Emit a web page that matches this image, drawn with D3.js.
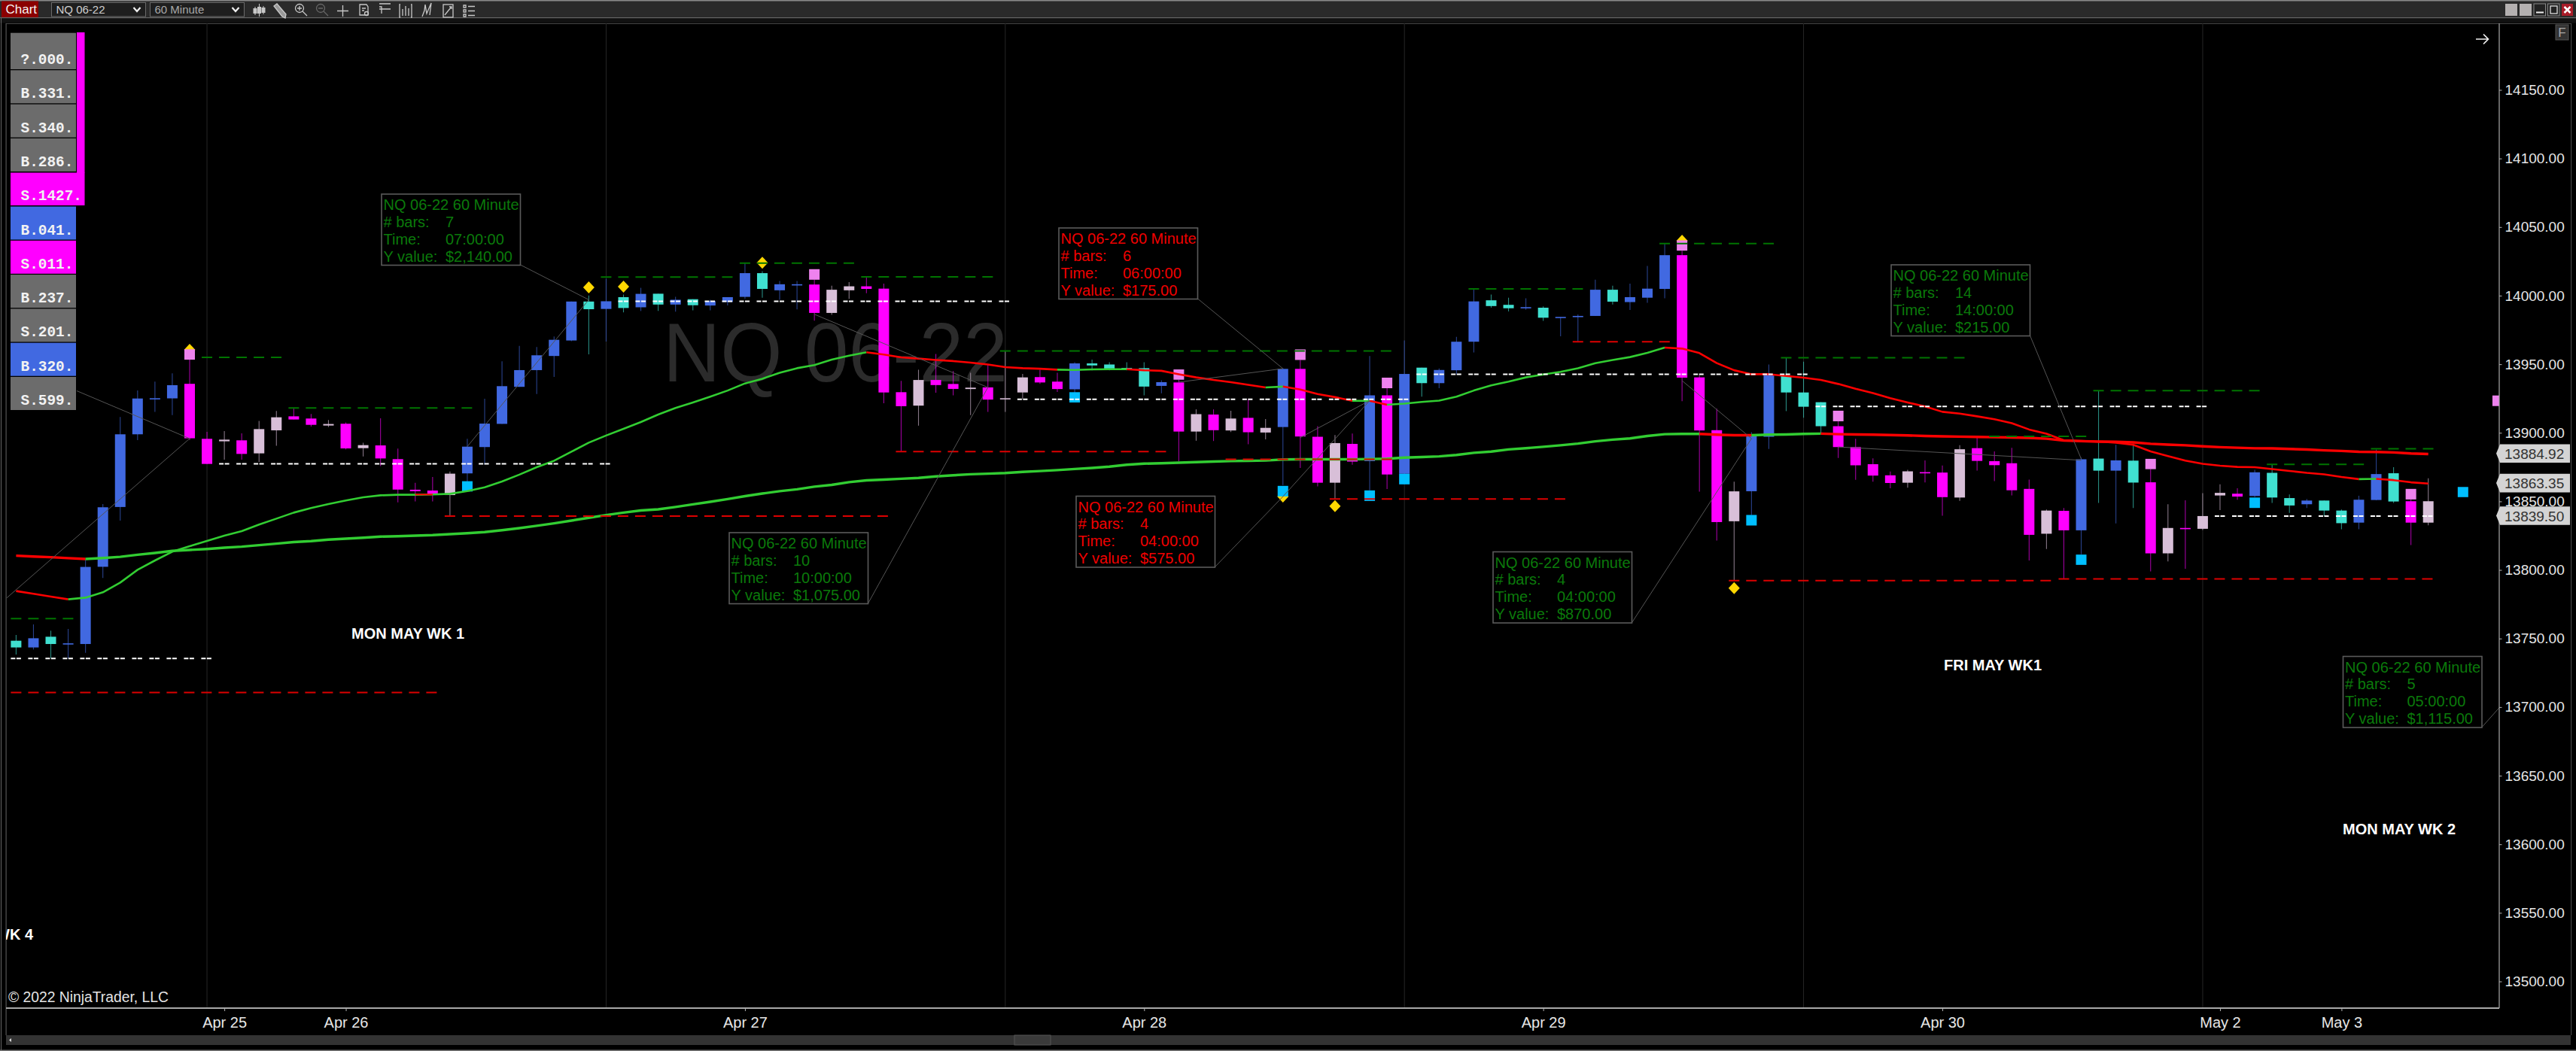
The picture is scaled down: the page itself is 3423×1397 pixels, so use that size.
<!DOCTYPE html>
<html><head><meta charset="utf-8">
<style>html,body{margin:0;padding:0;background:#000;overflow:hidden}svg{display:block;font-family:"Liberation Sans",Arial,sans-serif}</style>
<script src="https://cdn.jsdelivr.net/npm/d3@7/dist/d3.min.js"></script></head><body>
<script>
// ---------- DATA ----------
const barKinds=("tbtbbbbbbb"+"mmhmhhmmhm"+"hmmmmhbbbb"+"bbbtbtbtbt"+"bbbtbbmhhm"+"mmhmmhmhhm"+"mbttttbmhm"+"hmhbmmhmbm"+"btbbbttbtb"+"bbtbbbmmmh"+"bbtttmmmmh"+"mmhmmmmhmb"+"tbtmhmhhmb"+"ttbttbbtmh").split("");
const bodyTop=[13748.4,13750.2,13751.3,13746.5,13802.2,13845.7,13898.9,13925,13925.2,13934.7,
13935.7,13895.6,13895,13894.5,13902.7,13911.3,13912,13910.4,13906.4,13906.6,
13891,13890.8,13880.8,13858.5,13857.9,13870.2,13889.9,13906.7,13934,13945.7,
13956.5,13967.8,13995.7,13995.7,13995.9,13998.9,14001.3,14001.4,13997,13997.4,
13996,13998.9,14016.4,14016.4,14008.3,14008.3,14008.1,14004.3,14006.8,14006.8,
14005.1,13929.6,13938.5,13938.5,13935.6,13932.9,13933.1,13925.2,13940.4,13940.6,
13937.3,13950.6,13950.6,13949.8,13947.3,13947.1,13936.9,13936.7,13913.6,13913.3,
13910.4,13910.9,13903.6,13946.6,13946.6,13897.1,13892.5,13891.9,13927.3,13927.3,
13942.9,13947.5,13945.8,13966.4,13995.8,13996.6,13993.3,13991.6,13991.2,13984.5,
13985.2,14004.3,14004.3,13998.9,14005.1,14029.5,14029.5,13940.4,13901.9,13857.3,
13897.5,13942.5,13941.7,13929.4,13922.3,13904.8,13889.6,13877.1,13869,13871.9,
13871.3,13871,13888,13888.8,13879.3,13877.8,13859.1,13843.3,13843.1,13880.7,
13881.2,13879.9,13879.7,13863.9,13830.6,13830.6,13839.3,13856.2,13855.6,13871.2,
13870.8,13852.4,13850.6,13850.6,13843.3,13851.2,13869.9,13870.5,13850.1,13850.1];
const bodyBottom=[13743.5,13743.5,13746,13745.7,13746,13802.3,13845.9,13898.9,13924.4,13925.1,
13896,13877.3,13893.8,13884.6,13885,13901.8,13909.7,13905.8,13905.3,13888.6,
13888.8,13881.3,13858.6,13857.4,13855.4,13854.6,13870.4,13889.6,13906.5,13933.5,
13945.7,13956,13967.3,13990.1,13990.3,13991,13991.5,13993.5,13993.5,13993,
13992.8,13995.4,13999.1,14004.9,14003.9,14007.6,13987.4,13987.4,14003.9,14004.9,
13929.4,13919.4,13919.8,13934.8,13932,13931.9,13924.2,13924.4,13929.4,13936.7,
13931.9,13931.7,13949.1,13946.8,13946.4,13933.7,13934.2,13900.9,13900.9,13901.9,
13901.7,13900.4,13900.2,13904.2,13897.3,13863.6,13863.6,13879,13879.4,13869.6,
13870.1,13936.2,13936.2,13945.6,13966.4,13992.4,13990.8,13991.2,13983.9,13984.1,
13984.7,13985.2,13995.6,13995.3,13998.5,14004.9,13940.2,13901.7,13834.9,13835.5,
13857.4,13897.1,13929.4,13919,13904.8,13889.6,13876.3,13868.8,13863.4,13863.6,
13870.9,13853.1,13852.8,13879.5,13876.4,13858.1,13825.6,13826.4,13828.9,13828.9,
13872.4,13872.4,13863.7,13812.1,13812.1,13830,13830,13854.3,13853.5,13853.9,
13852.8,13847,13847.9,13843.3,13834.1,13834.5,13851,13849.9,13834.5,13834.5];
const wickHigh=[13752.6,13760.3,13755.7,13757,13808.2,13848,13911.5,13930.9,13937.3,13943.3,
13953.3,13900.7,13901.3,13899.6,13908.6,13915.9,13917.9,13913.7,13909.3,13907.5,
13892.8,13910.6,13888.5,13863.6,13867.8,13871.8,13895.6,13924.8,13952.1,13963.4,
13962.6,13970.2,13995.7,14000.1,14012.3,14000.8,14005.7,14001.4,13999.1,13997.4,
13997,13998.9,14023.5,14017.8,14010.7,14010.7,14011.6,14007.2,14009.9,14013.7,
14008.7,13937.9,13946,13957.5,13945,13943.7,13949.8,13959.5,13942.9,13946,
13943.7,13951.4,13953.3,13951.4,13951.4,13951.4,13938.3,13938.7,13917.1,13917.1,
13916.1,13924.4,13910,13947.1,13953.1,13904.8,13898.4,13899.4,13956,13932.5,
13967.3,13947.5,13946.9,13970,14004.7,14000.8,13998.5,13998.1,13992.2,13984.5,
13986.2,14011.6,14007.2,14008.7,14021.6,14037.8,14032.8,13942.1,13917.5,13864.4,
13900.4,13949.8,13954.6,13951.9,13922.3,13908.4,13895.6,13881.3,13871.7,13873,
13879.8,13876.2,13890.9,13897,13886.4,13889.1,13865.8,13844.1,13845.1,13882,
13930.7,13891.2,13892.2,13873.5,13847.9,13850.8,13856,13862.4,13859.5,13873,
13876.8,13855.1,13851.8,13850.6,13844.1,13854.1,13887.8,13874.9,13851.4,13866.8];
const wickLow=[13738.3,13742,13735.6,13735.6,13739.6,13794.1,13836,13894.7,13915.2,13912.9,
13894.8,13877.3,13880.4,13880.4,13878.8,13890.6,13909.7,13904.5,13904.2,13887.9,
13882.8,13875.8,13849.3,13849.9,13849.9,13839.3,13864.5,13876.9,13906.5,13933.5,
13928.3,13940.8,13966.8,13957.2,13966.5,13987.8,13988.8,13988.9,13988.3,13989.3,
13989.3,13992.8,13997.6,13998.5,13997,13989.9,13981.8,13986,13997.6,14001.8,
13921.5,13886.3,13905.2,13929.2,13927.3,13912.9,13915.2,13915.2,13924.4,13935.6,
13929.8,13924.4,13945.6,13945.6,13945.6,13927.3,13928.8,13879.2,13894.2,13894,
13900.6,13891.7,13895.2,13861.9,13874.4,13860.9,13851.7,13876.7,13858,13859,
13862.8,13926.3,13932.5,13942.7,13958.5,13991.2,13988.5,13989.7,13981.6,13970.4,
13966.4,13985.2,13993.5,13989.5,13994.7,13998.1,13923.1,13857.1,13821.4,13792.2,
13840.1,13888.2,13915.8,13911,13899.4,13881.7,13865.7,13864.4,13859.6,13860,
13863.8,13839.5,13850.4,13872.4,13864.7,13854.3,13806.9,13815.2,13793.5,13811.4,
13848.9,13833.9,13845.1,13798.9,13806.2,13800.8,13829.1,13843.7,13851.2,13853.1,
13848.9,13841.6,13845.1,13839.3,13829.7,13829.7,13850.8,13848.9,13818.1,13832.5];
const cyanBlocks=[[26,13864.7,13857.2],[61,13929.6,13922.1],[73,13861.3,13853.6],[78,13858,13850.3],[80,13870.1,13862.4],[100,13840.1,13832.4],[119,13811.2,13803.7],[129,13852.8,13845.2],[141,13860.5,13853.1]];
const violetBlocks=[[10,13960.9,13953.3],[46,14019.3,14011.6],[67,13946.2,13938.7],[74,13960.8,13953.1],[79,13940.2,13932.5],[96,14040.3,14032.8],[105,13916.1,13908.4],[123,13881,13873.5],[138,13859.1,13851.4],[143,13927.2,13919.5]];
const goldMarks=[[10,13960.5],[33,14006],[35,14006.5],[43,14024],[73,13853.5],[76,13846.5],[96,14040],[99,13786.8]];
const fastLine=[13784.6,13782.6,13780.6,13778.6,13779.8,13783.7,13790.8,13800.1,13806.9,13813.3,
13817.3,13821.2,13825,13828.3,13833.1,13837.4,13841.8,13845.1,13848,13850.6,
13853,13854.4,13854.8,13854.8,13855,13855.5,13857.5,13860.3,13864.5,13869.5,
13874.9,13879.6,13886.2,13892.8,13898,13902.9,13907.8,13913.3,13918.1,13922.1,
13926.3,13930.8,13936,13939.4,13943.7,13947.1,13949.4,13953.3,13956.2,13958.7,
13957.1,13955,13954.1,13953.1,13952.3,13951.2,13949.8,13947.9,13947.1,13946.7,
13946,13945.8,13946.2,13946.4,13946.4,13945.6,13945.2,13942.7,13940.4,13938.5,
13936.9,13935,13933.1,13933.7,13931.5,13928.3,13926,13923.3,13923.3,13920.4,
13921.3,13922.5,13923.5,13926.3,13930.8,13934.6,13937.3,13940.4,13942.5,13944.4,
13947.1,13950.8,13953.1,13955.2,13958.3,13962.1,13961.4,13958.1,13950.8,13945.6,
13942.7,13942.7,13941.4,13940.2,13938.5,13935.6,13932.1,13929,13925.2,13922.1,
13919.2,13915.3,13914,13912,13909.9,13907,13902.4,13899.3,13894.5,13894.1,
13893.6,13892.8,13891.2,13886.4,13883,13879.7,13877.4,13876,13875.1,13874.9,
13873.5,13872.2,13870.8,13869.7,13867.8,13866.2,13866.4,13865.5,13863.9,13863];
const slowLine=[13810.4,13809.8,13809.3,13808.6,13808,13808.7,13809.6,13811.1,13812.4,13813.9,
13814.6,13815.3,13816.2,13817,13818.1,13819.2,13820.3,13821,13822.1,13822.8,
13823.5,13824.3,13824.6,13825,13825.4,13826.1,13826.8,13827.6,13829,13830.5,
13832.2,13834,13836,13838,13840,13841.8,13843.4,13844.2,13845.9,13847.8,
13849.7,13851.7,13853.8,13855.7,13857.4,13858.8,13860.7,13862,13864,13865.3,
13865.9,13866.5,13867.1,13868.2,13869,13869.8,13870.2,13870.7,13871.5,13872.1,
13872.8,13873.6,13874.4,13875.3,13876.7,13877.5,13877.8,13878.2,13878.6,13879,
13879.4,13879.6,13879.8,13880.5,13880.7,13880.7,13880.7,13880.7,13880.9,13881.1,
13881.9,13882.3,13882.8,13883.8,13885.4,13886.3,13887.9,13888.8,13889.8,13890.9,
13892.1,13893.8,13895,13895.9,13897.7,13899,13899.2,13899.2,13898.6,13898.2,
13898.2,13898.6,13898.8,13899.2,13899.4,13899,13898.8,13898.6,13898.4,13898.1,
13897.7,13897.4,13897.2,13897,13896.8,13896.6,13896.3,13895.7,13894.3,13893.9,
13893.6,13893.4,13893,13892,13891.4,13890.9,13890.1,13889.5,13889.1,13888.7,
13888.6,13888.2,13887.8,13887.2,13886.8,13886.2,13886,13885.7,13884.9,13884.5];
const fastRedRuns=[[0,3],[49,60],[64,72],[73,77],[78,79],[95,135],[136,139]];
const slowRedRuns=[[0,4],[97,100],[104,139]];
// level lines: [first bar, last bar, price]
const greenLevels=[[0,3,13764.5],[11,15,13955],[16,26,13918.1],[34,41,14013.5],[42,48,14023.7],[49,56,14013.7],[57,79,13959.6],[84,90,14004.9],[95,101,14038],[102,112,13954.7],[114,119,13897.4],[120,129,13930.7],[130,135,13877],[136,139,13888.4]];
const whiteLevels=[[0,11,13735.4],[12,34,13877.4],[35,57,13995.8],[58,80,13924.4],[81,103,13942.7],[104,126,13919.2],[127,139,13839.3]];
const redLevels=[[0,24,13710.7],[25,50,13839.3],[51,66,13886.3],[70,79,13880.7],[76,89,13851.7],[90,95,13966.4],[99,117,13792.2],[118,139,13793.5]];
const zigzags=[[-0.55,13779.5,10,13895.8],[26,13890,33,13997],[46,13986.4,56,13933.1],[67,13936.9,73,13946.8],[73,13853.5,78,13923.5],[74,13896.5,78,13923.5],[96,13938,100,13895.8],[105,13889.7,119,13880]];
const priceTicks=d3.range(14150,13450,-50);
const dateBars=[12,19,42,65,88,111,127,134];
const dateLabels=["Apr 25","Apr 26","Apr 27","Apr 28","Apr 29","Apr 30","May 2","May 3"];
const sessionBars=[11,34,57,80,103,126];
const priceFlags=[13884.92,13863.35,13839.50];
const pillLabels=["?.000.","B.331.","S.340.","B.286.","S.1427.","B.041.","S.011.","B.237.","S.201.","B.320.","S.599."];
const pillKinds=["g","g","g","g","m","b","m","g","g","b","g"];
const noteSymbol="NQ 06-22 60 Minute";
const noteBars=["7","6","10","4","4","14","5"];
const noteTimes=["07:00:00","06:00:00","10:00:00","04:00:00","04:00:00","14:00:00","05:00:00"];
const noteValues=["$2,140.00","$175.00","$1,075.00","$575.00","$870.00","$215.00","$1,115.00"];
const noteKinds=["g","r","g","r","g","g","g"];
const noteAnchors=[[33,13997],[73,13946.8],[56,13933.1],[73,13853.5],[100,13895.8],[119,13881],[143.1,13699.7]];

// ---------- LAYOUT ----------
const W=3423,H=1397,axisX=3321,plotTop=31,plotBottom=1340;
const noteBoxes=[[507,258],[1407,303],[969,708],[1430,659.5],[1984,733.5],[2513,352],[3113.5,872.5]];
const x=d3.scaleLinear().domain([0,139]).range([21.4,3226.7]);
const y=d3.scaleLinear().domain([14150,13500]).range([119.5,1304.5]);
const colors={b:"#4169E1",t:"#40E0D0",m:"#FF00FF",h:"#D8BFD8",v:"#EE82EE",c:"#00BFFF"};
const svg=d3.select("body").append("svg").attr("width",W).attr("height",H);
svg.append("rect").attr("width",W).attr("height",H).attr("fill","#000");
const defs=svg.append("defs");
defs.append("clipPath").attr("id","plot").append("rect").attr("x",8).attr("y",plotTop).attr("width",axisX-8).attr("height",plotBottom-plotTop);

// window chrome
const chrome=svg.append("g");
chrome.append("rect").attr("width",W).attr("height",24).attr("fill","#2a2a2a");
chrome.append("rect").attr("width",W).attr("height",1.5).attr("fill","#8a8a8a");
chrome.append("rect").attr("y",23).attr("width",W).attr("height",1.5).attr("fill","#666");
chrome.append("rect").attr("y",24.5).attr("width",W).attr("height",6).attr("fill","#111");
chrome.append("rect").attr("x",2).attr("y",1.5).attr("width",49).attr("height",21.5).attr("fill","#8b0000");
chrome.append("text").attr("x",7.5).attr("y",18).attr("fill","#f4f4f4").attr("font-size",17).text("Chart");
[[68.5,"NQ 06-22","#cfcfcf"],[199.5,"60 Minute","#a8a8a8"]].forEach(([bx,t,c])=>{
  chrome.append("rect").attr("x",bx).attr("y",3.5).attr("width",125).attr("height",18.5).attr("fill","#1e1e1e").attr("stroke","#6a6a6a");
  chrome.append("text").attr("x",bx+6).attr("y",18).attr("fill",c).attr("font-size",15).text(t);
  chrome.append("path").attr("d",`M${bx+109} 10l4.5 5 4.5-5`).attr("fill","none").attr("stroke","#f0f0f0").attr("stroke-width",2.2);
});
const ic=chrome.append("g").attr("stroke","#c8c8c8").attr("fill","none").attr("stroke-width",1.3);
ic.append("path").attr("d","M339 9v11M344.5 5v17M350 8v11").attr("stroke-width",1);
[[336.5,11,5,7],[342,9,5,9],[347.5,10,5,7]].forEach(r=>ic.append("rect").attr("x",r[0]).attr("y",r[1]).attr("width",r[2]).attr("height",r[3]).attr("fill","#c8c8c8").attr("stroke","none"));
ic.append("path").attr("d","M364 8l4-3 12 14 -1 5-4-2z").attr("fill","#999");
ic.append("circle").attr("cx",398).attr("cy",11).attr("r",5.5);ic.append("path").attr("d","M402 15l6 6M395 11h6M398 8v6");
ic.append("circle").attr("cx",426).attr("cy",11).attr("r",5.5).attr("stroke","#666");ic.append("path").attr("d","M430 15l6 6M423 11h6").attr("stroke","#666");
ic.append("path").attr("d","M448 14.5h15M455.5 7v15");
ic.append("path").attr("d","M478 6h9l2 3v11h-11zM481 11h5M481 14h3"); ic.append("circle").attr("cx",487).attr("cy",18).attr("r",2.5);
ic.append("path").attr("d","M504 5h15M504 12h15M504 9h3v9");
ic.append("path").attr("d","M532 6h-1v17h1M546 6h1v17h-1M535 12v9M539 8v13M543 11v10");
ic.append("path").attr("d","M561 22l3-8 1-8 2 12 6-14-2 16");
ic.append("rect").attr("x",589).attr("y",6).attr("width",13).attr("height",17);ic.append("path").attr("d","M591 20l4-5 5-6M597 9h3v3");
ic.append("path").attr("d","M616 7h3v3h-3zM616 13h3v3h-3zM616 19h3v3h-3zM622 8.5h9M622 14.5h9M622 20.5h9");
[[3329,"#b4b0b0"],[3348,"#b4b0b0"]].forEach(([bx,c])=>chrome.append("rect").attr("x",bx).attr("y",5).attr("width",16).attr("height",16).attr("fill",c));
chrome.append("rect").attr("x",3367).attr("y",5).attr("width",15.5).attr("height",16).attr("fill","#222").attr("stroke","#888");
chrome.append("rect").attr("x",3370).attr("y",15.5).attr("width",10).attr("height",2).attr("fill","#eee");
chrome.append("rect").attr("x",3385.5).attr("y",5).attr("width",15.5).attr("height",16).attr("fill","#222").attr("stroke","#888");
chrome.append("rect").attr("x",3389).attr("y",8).attr("width",9).attr("height",10).attr("fill","none").attr("stroke","#eee").attr("stroke-width",1.2);
chrome.append("rect").attr("x",3404).attr("y",5).attr("width",15).attr("height",16).attr("fill","#a81c28");
chrome.append("path").attr("d","M3407.5 9l8 8M3415.5 9l-8 8").attr("stroke","#fff").attr("stroke-width",2.6);
chrome.append("rect").attr("x",8).attr("y",31).attr("width",3408).attr("height",1).attr("fill","#444");
chrome.append("rect").attr("x",1).attr("y",24).attr("width",1).attr("height",H-24).attr("fill","#666");
chrome.append("rect").attr("x",7.5).attr("y",31).attr("width",1.2).attr("height",1345).attr("fill","#555");
chrome.append("rect").attr("x",3416).attr("y",31).attr("width",1.2).attr("height",1345).attr("fill","#444");
chrome.append("rect").attr("y",1395.5).attr("width",W).attr("height",1.5).attr("fill","#777");
chrome.append("rect").attr("x",8).attr("y",1376).attr("width",3408).attr("height",13).attr("fill","#333");
chrome.append("rect").attr("x",1348).attr("y",1376).attr("width",48).attr("height",13).attr("fill","#3a3a3a").attr("stroke","#555");
chrome.append("path").attr("d","M15 1380l-3 2.5 3 2.5z").attr("fill","#ddd");
chrome.append("rect").attr("x",3396).attr("y",33).attr("width",17).attr("height",20).attr("fill","#333").attr("stroke","#555");
chrome.append("text").attr("x",3404.5).attr("y",49).attr("text-anchor","middle").attr("fill","#a8a8a8").attr("font-size",17).text("F");

// plot
const plot=svg.append("g").attr("clip-path","url(#plot)");
plot.append("g").selectAll("line").data(sessionBars).join("line")
  .attr("x1",d=>x(d)).attr("x2",d=>x(d)).attr("y1",plotTop).attr("y2",plotBottom).attr("stroke","#262626").attr("stroke-width",1);
plot.append("text").attr("x",881).attr("y",507).attr("font-size",112).attr("fill","#2b2b2b").attr("textLength",458).attr("lengthAdjust","spacingAndGlyphs").text("NQ 06-22");

const n=barKinds.length, idx=d3.range(n), bw=14;
plot.append("g").selectAll("line").data(idx).join("line")
  .attr("x1",i=>x(i)).attr("x2",i=>x(i)).attr("y1",i=>y(wickHigh[i])).attr("y2",i=>y(wickLow[i]))
  .attr("stroke",i=>colors[barKinds[i]]).attr("stroke-opacity",0.62).attr("stroke-width",1.1);
plot.append("g").selectAll("path").data(goldMarks).join("path")
  .attr("transform",d=>`translate(${x(d[0])},${y(d[1])})`).attr("d","M0 -8L7.5 0L0 8L-7.5 0Z").attr("fill","#FFD700");
plot.append("g").selectAll("rect").data(idx).join("rect")
  .attr("x",i=>x(i)-bw/2).attr("width",bw).attr("y",i=>y(bodyTop[i]))
  .attr("height",i=>Math.max(1.6,y(bodyBottom[i])-y(bodyTop[i]))).attr("fill",i=>colors[barKinds[i]]);
const blocks=(data,c)=>plot.append("g").selectAll("rect").data(data).join("rect")
  .attr("x",d=>x(d[0])-bw/2).attr("width",bw).attr("y",d=>y(d[1])).attr("height",d=>y(d[2])-y(d[1])).attr("fill",c);
blocks(cyanBlocks,colors.c);blocks(violetBlocks,colors.v);

function drawTrend(vals,redRuns,sw){
  const isRed=i=>redRuns.some(r=>i>=r[0]&&i<r[1]);
  const gen=d3.line().x(i=>x(i)).y(i=>y(vals[i]));
  let s=0;
  for(let i=1;i<=vals.length-1;i++){
    if(i===vals.length-1||isRed(i)!==isRed(s)){
      plot.append("path").attr("d",gen(d3.range(s,i+1))).attr("fill","none")
        .attr("stroke",isRed(s)?"#FF0000":"#32CD32").attr("stroke-width",sw).attr("stroke-linejoin","round");
      s=i;
    }
  }
}
drawTrend(slowLine,slowRedRuns,3.4);
drawTrend(fastLine,fastRedRuns,2.6);

const levels=(data,c,dash)=>plot.append("g").selectAll("line").data(data).join("line")
  .attr("x1",d=>x(d[0])-bw/2).attr("x2",d=>x(d[1])+bw/2).attr("y1",d=>y(d[2])).attr("y2",d=>y(d[2]))
  .attr("stroke",c).attr("stroke-width",2).attr("stroke-dasharray",dash);
levels(greenLevels,"#007400","14 9");
levels(redLevels,"#dd0000","14 9");
levels(whiteLevels,"#ffffff","6 1.5 6 9.5");
plot.append("line").attr("x1",x(23)).attr("x2",x(24)).attr("y1",y(13855)).attr("y2",y(13855)).attr("stroke","#ff0000").attr("stroke-width",2);

// connectors
const conn=plot.append("g").attr("stroke","#555").attr("stroke-width",1).attr("fill","none");
conn.selectAll("line").data(zigzags).join("line").attr("x1",d=>x(d[0])).attr("y1",d=>y(d[1])).attr("x2",d=>x(d[2])).attr("y2",d=>y(d[3]));
conn.append("line").attr("x1",102).attr("y1",519.5).attr("x2",x(10)).attr("y2",y(13895.8));
noteBoxes.forEach((b,k)=>{
  conn.append("line").attr("x1",b[0]+184.5).attr("y1",b[1]+94).attr("x2",x(noteAnchors[k][0])).attr("y2",y(noteAnchors[k][1]));
});

// notes
const notes=svg.append("g");
noteBoxes.forEach((b,k)=>{
  const g=notes.append("g").attr("transform",`translate(${b[0]},${b[1]})`);
  const col=noteKinds[k]==="g"?"#0b7a0b":"#f00000";
  g.append("rect").attr("width",184.5).attr("height",94.5).attr("fill","#000").attr("stroke","#5a5a5a").attr("stroke-width",1.6);
  const rows=[[noteSymbol,""],["# bars:",noteBars[k]],["Time:",noteTimes[k]],["Y value:",noteValues[k]]];
  rows.forEach((r,j)=>{
    g.append("text").attr("x",2.5).attr("y",21+j*22.9).attr("font-size",20).attr("fill",col).text(r[0]);
    if(r[1])g.append("text").attr("x",85).attr("y",21+j*22.9).attr("font-size",20).attr("fill",col).text(r[1]);
  });
});

// session captions
const cap=[["MON MAY WK 1",467,849],["FRI MAY WK1",2583,891],["MON MAY WK 2",3113,1109]];
cap.forEach(c=>svg.append("text").attr("x",c[1]).attr("y",c[2]).attr("font-size",20).attr("font-weight","bold").attr("fill","#fff").text(c[0]));
plot.append("text").attr("x",44).attr("y",1249).attr("text-anchor","end").attr("font-size",20).attr("font-weight","bold").attr("fill","#fff").text("WK 4");
svg.append("text").attr("x",11).attr("y",1332).attr("font-size",19.3).attr("fill","#e4e4e4").text("© 2022 NinjaTrader, LLC");
svg.append("path").attr("d","M3290 52h16M3300 45.5l6.5 6.5-6.5 6.5").attr("fill","none").attr("stroke","#eee").attr("stroke-width",1.6);

// pills
const pills=svg.append("g");
pillLabels.forEach((t,k)=>{
  const base=85+45.3*k, top=k===0?43.7:base-37, bottom=base+7;
  const fill=pillKinds[k]==="m"?colors.m:pillKinds[k]==="b"?colors.b:"#6c6c6c";
  if(k===4)pills.append("rect").attr("x",14).attr("y",229.5).attr("width",98.5).attr("height",43.5).attr("fill",fill);
  else pills.append("rect").attr("x",14).attr("y",top).attr("width",87).attr("height",bottom-top).attr("fill",fill);
  pills.append("text").attr("x",27.5).attr("y",base).attr("font-family","'Liberation Mono',monospace").attr("font-weight","bold").attr("font-size",19.4).attr("fill","#f2f2f2").text(t);
});
pills.append("rect").attr("x",102).attr("y",43).attr("width",10.5).attr("height",187).attr("fill",colors.m);

// axes
const yAxis=d3.axisRight(y).tickValues(priceTicks).tickSize(3.5).tickPadding(4).tickFormat(d3.format(".2f"));
const gy=svg.append("g").attr("transform",`translate(${axisX},0)`).call(yAxis);
gy.select(".domain").attr("d",`M0 ${plotTop}V${plotBottom}`).attr("stroke","#a8a8a8").attr("stroke-width",1.2);
gy.selectAll("line").attr("stroke","#b0b0b0");
gy.selectAll("text").attr("font-size",19).attr("fill","#e6e6e6").attr("font-family","'Liberation Sans',Arial,sans-serif");
const dateScale=d3.scaleOrdinal().domain(dateBars).range(dateLabels);
const xAxis=d3.axisBottom(x).tickValues(dateBars).tickSize(4).tickPadding(8).tickFormat(d=>dateScale(d));
const gx=svg.append("g").attr("transform",`translate(0,${plotBottom})`).call(xAxis);
gx.select(".domain").attr("d",`M8 0H${axisX}`).attr("stroke","#a8a8a8").attr("stroke-width",2);
gx.selectAll("line").attr("stroke","#b0b0b0");
gx.selectAll("text").attr("font-size",20).attr("fill","#e6e6e6").attr("font-family","'Liberation Sans',Arial,sans-serif");

// price flags
const flags=svg.append("g").selectAll("g").data(priceFlags).join("g").attr("transform",d=>`translate(0,${y(d)})`);
flags.append("path").attr("d","M3317 0l5-12.3h93v24.6h-93z").attr("fill","#d4d4d4");
flags.append("text").attr("x",3328).attr("y",7).attr("font-size",19).attr("fill","#333").text(d=>d3.format(".2f")(d));
</script></body></html>
